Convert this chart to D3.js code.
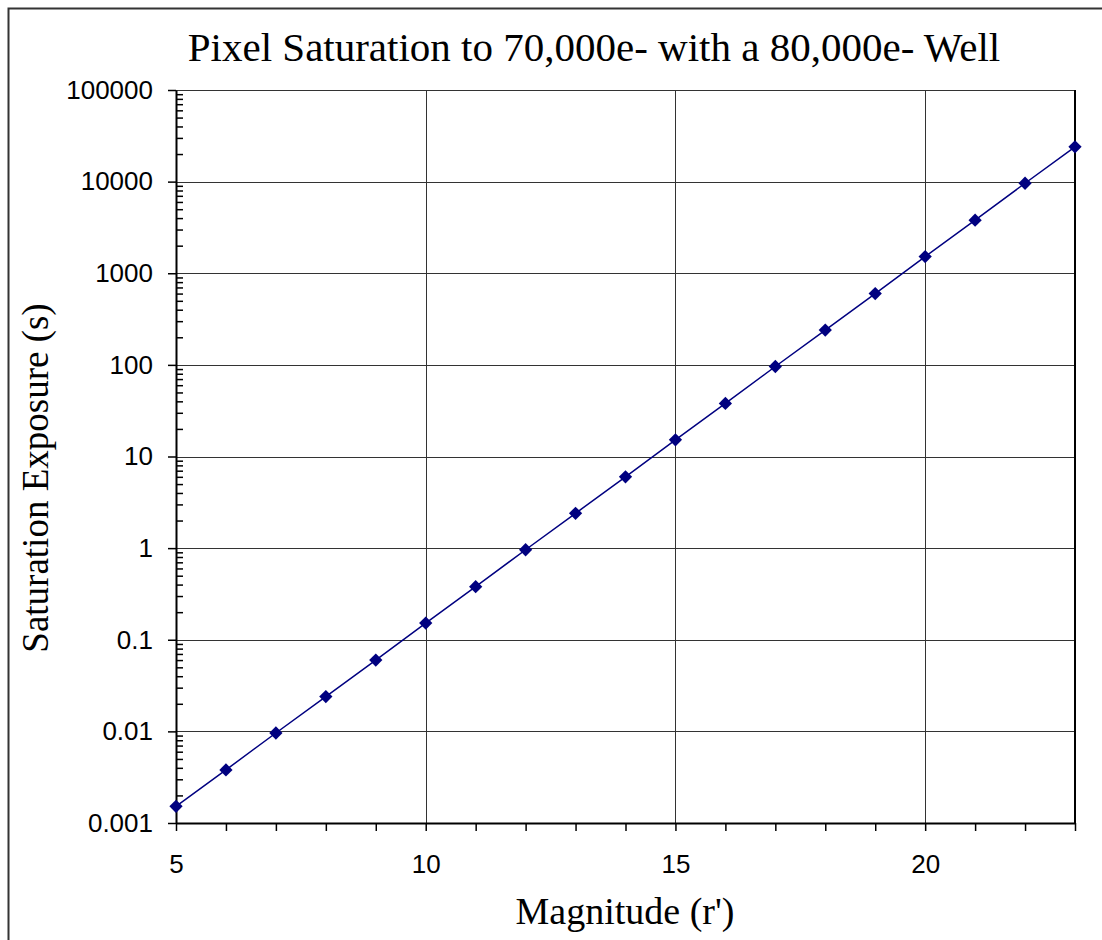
<!DOCTYPE html>
<html>
<head>
<meta charset="utf-8">
<script src="https://cdn.jsdelivr.net/npm/d3@7"></script>
<style>
  body { margin: 0; background: #fff; }
</style>
</head>
<body>
<div id="canvas"></div>
<script>
// magnitude (r') vs saturation exposure time (s)
const magnitudes = [5, 6, 7, 8, 9, 10, 11, 12, 13, 14, 15, 16, 17, 18, 19, 20, 21, 22, 23];
const exposures = [0.00152, 0.0038, 0.0096, 0.024, 0.06, 0.152, 0.38, 0.96, 2.4, 6.0,
                   15.2, 38, 96, 240, 600, 1520, 3800, 9600, 24000];

const yTickValues = [0.001, 0.01, 0.1, 1, 10, 100, 1000, 10000, 100000];
const yTickLabels = ["0.001", "0.01", "0.1", "1", "10", "100", "1000", "10000", "100000"];
const xLabelValues = [5, 10, 15, 20];
const xGridValues = [10, 15, 20];

const width = 1102;
const height = 940;
const marginLeft = 176;
const marginRight = 1075;
const marginTop = 90;
const marginBottom = 823;

const data = magnitudes.map((m, i) => ({mag: m, t: exposures[i]}));

const x = d3.scaleLinear()
    .domain([5, 23])
    .range([marginLeft, marginRight]);

const y = d3.scaleLog()
    .domain([0.001, 100000])
    .range([marginBottom, marginTop]);

const svg = d3.select("#canvas")
    .append("svg")
    .attr("width", width)
    .attr("height", height)
    .style("display", "block")
    .style("background-color", "white");

// outer chart frame
svg.append("rect")
    .attr("x", 8.5)
    .attr("y", 8.5)
    .attr("width", 1200)
    .attr("height", 1000)
    .attr("fill", "none")
    .attr("stroke", "#333")
    .attr("stroke-width", 2);

// title
svg.append("text")
    .attr("x", 594)
    .attr("y", 61)
    .attr("text-anchor", "middle")
    .attr("font-family", "'Liberation Serif', 'Times New Roman', serif")
    .attr("font-size", "41px")
    .attr("fill", "#000")
    .text("Pixel Saturation to 70,000e- with a 80,000e- Well");

// gridlines
svg.append("g")
    .attr("stroke", "#333")
    .attr("stroke-width", 1)
  .selectAll("line")
  .data(yTickValues)
  .join("line")
    .attr("x1", marginLeft)
    .attr("x2", marginRight)
    .attr("y1", d => Math.round(y(d)) + 0.5)
    .attr("y2", d => Math.round(y(d)) + 0.5);

svg.append("g")
    .attr("stroke", "#333")
    .attr("stroke-width", 1)
  .selectAll("line")
  .data(xGridValues)
  .join("line")
    .attr("x1", d => Math.round(x(d)) + 0.5)
    .attr("x2", d => Math.round(x(d)) + 0.5)
    .attr("y1", marginTop)
    .attr("y2", marginBottom);

// plot area right edge
svg.append("line")
    .attr("x1", marginRight)
    .attr("x2", marginRight)
    .attr("y1", marginTop)
    .attr("y2", marginBottom)
    .attr("stroke", "#000")
    .attr("stroke-width", 2);

// y axis: major ticks + labels
svg.append("g")
    .attr("transform", `translate(${marginLeft},0)`)
    .call(d3.axisLeft(y)
        .tickValues(yTickValues)
        .tickFormat((d, i) => yTickLabels[i])
        .tickSize(8)
        .tickPadding(15)
        .tickSizeOuter(0))
    .call(g => g.select(".domain").attr("stroke-width", 2))
    .call(g => g.selectAll(".tick line").attr("stroke-width", 1.5))
    .call(g => g.selectAll(".tick text")
        .attr("font-family", "'Liberation Sans', Arial, sans-serif")
        .attr("font-size", "26px")
        .attr("fill", "#000"));

// y axis: minor ticks pointing inward
const minorTicks = y.ticks().filter(d => !yTickValues.some(v => Math.abs(v - d) / v < 1e-9));
svg.append("g")
    .attr("transform", `translate(${marginLeft},0)`)
    .call(d3.axisRight(y)
        .tickValues(minorTicks)
        .tickFormat("")
        .tickSize(7)
        .tickSizeOuter(0))
    .call(g => g.select(".domain").remove())
    .call(g => g.selectAll(".tick line").attr("stroke-width", 1.5));

// x axis
svg.append("g")
    .attr("transform", `translate(0,${marginBottom})`)
    .call(d3.axisBottom(x)
        .tickValues(magnitudes)
        .tickFormat(d => xLabelValues.includes(d) ? d : "")
        .tickSize(8)
        .tickPadding(24)
        .tickSizeOuter(0))
    .call(g => g.select(".domain").attr("stroke-width", 2))
    .call(g => g.selectAll(".tick line").attr("stroke-width", 1.5))
    .call(g => g.selectAll(".tick text")
        .attr("font-family", "'Liberation Sans', Arial, sans-serif")
        .attr("font-size", "26px")
        .attr("fill", "#000"));

// axis titles
svg.append("text")
    .attr("x", 625)
    .attr("y", 924)
    .attr("text-anchor", "middle")
    .attr("font-family", "'Liberation Serif', 'Times New Roman', serif")
    .attr("font-size", "38px")
    .attr("fill", "#000")
    .text("Magnitude (r')");

svg.append("text")
    .attr("transform", "translate(48,478) rotate(-90)")
    .attr("text-anchor", "middle")
    .attr("font-family", "'Liberation Serif', 'Times New Roman', serif")
    .attr("font-size", "37px")
    .attr("fill", "#000")
    .text("Saturation Exposure (s)");

// series line
const line = d3.line()
    .x(d => x(d.mag))
    .y(d => y(d.t));

svg.append("path")
    .datum(data)
    .attr("fill", "none")
    .attr("stroke", "#000080")
    .attr("stroke-width", 1.5)
    .attr("d", line);

// diamond markers
svg.append("g")
  .selectAll("path")
  .data(data)
  .join("path")
    .attr("transform", d => `translate(${x(d.mag)},${y(d.t)}) rotate(45)`)
    .attr("d", d3.symbol(d3.symbolSquare, 88))
    .attr("fill", "#000080");
</script>
</body>
</html>
